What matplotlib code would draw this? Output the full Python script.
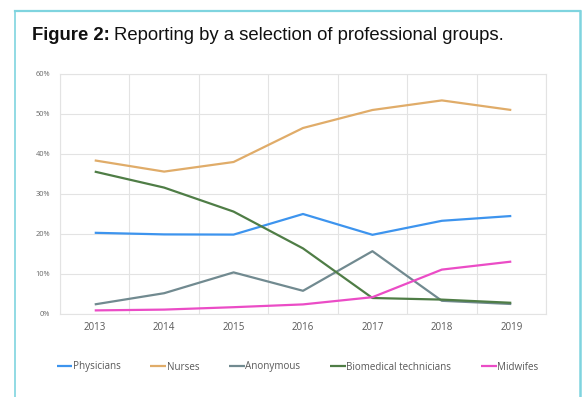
import matplotlib
matplotlib.use("Agg")
import matplotlib.pyplot as plt
from matplotlib.lines import Line2D
from matplotlib.ticker import PercentFormatter

years = ["2013", "2014", "2015", "2016", "2017", "2018", "2019"]
physicians = [20.3, 19.9, 19.85, 25.0, 19.8, 23.3, 24.5]
nurses = [38.4, 35.6, 38.0, 46.5, 51.0, 53.4, 51.0]
anonymous = [2.4, 5.2, 10.4, 5.8, 15.7, 3.3, 2.5]
biomedical = [35.6, 31.6, 25.6, 16.4, 4.0, 3.6, 2.8]
midwifes = [0.9, 1.1, 1.7, 2.4, 4.2, 11.1, 13.1]

series = [
    ("Physicians", physicians, "#3d94ee"),
    ("Nurses", nurses, "#e0ac69"),
    ("Anonymous", anonymous, "#718a90"),
    ("Biomedical technicians", biomedical, "#4f7d46"),
    ("Midwifes", midwifes, "#eb4cc6"),
]

W, H = 583, 397
fig = plt.figure(figsize=(W / 100, H / 100), dpi=100)
fig.patch.set_facecolor("white")

# outer frame
fc = "#7fd4df"
def fx(p): return p / W
def fy(p): return 1 - p / H
fig.add_artist(Line2D([fx(15), fx(15)], [fy(11), fy(400)], color=fc, lw=1.2, transform=fig.transFigure))
fig.add_artist(Line2D([fx(15), fx(580)], [fy(11), fy(11)], color=fc, lw=1.6, transform=fig.transFigure))
fig.add_artist(Line2D([fx(580), fx(580)], [fy(11), fy(400)], color=fc, lw=1.8, transform=fig.transFigure))

# title
t1 = fig.text(fx(32), fy(36), "Figure 2:", fontsize=13.3, fontweight="bold",
              family="Liberation Sans", va="center", ha="left", color="#111111")
fig.canvas.draw()
bb = t1.get_window_extent()
fig.text((bb.x1 + 4) / W, fy(36), "Reporting by a selection of professional groups.",
         fontsize=13.3, family="Liberation Sans", va="center", ha="left", color="#111111")

ax = fig.add_axes([fx(60), (H - 314) / H, 486 / W, 240 / H])
x = list(range(len(years)))
for name, vals, col in series:
    ax.plot(x, vals, color=col, lw=1.6, label=name, solid_capstyle="butt")

ax.set_xlim(-0.5, len(years) - 0.5)
ax.set_ylim(0, 60)
ax.set_yticks(range(0, 61, 10))
ax.yaxis.set_major_formatter(PercentFormatter(decimals=0))
ax.set_xticks(x)
ax.set_xticklabels(years)
ax.set_xticks([i - 0.5 for i in range(len(years) + 1)], minor=True)
ax.grid(True, which="minor", axis="x", color="#e3e3e3", lw=0.8)
ax.grid(True, which="major", axis="y", color="#e3e3e3", lw=0.8)
ax.set_axisbelow(True)
ax.tick_params(axis="both", which="both", length=0)
ax.tick_params(axis="y", labelsize=5.3, labelcolor="#666666", pad=7)
ax.tick_params(axis="x", labelsize=7, labelcolor="#595959", pad=6)
for s in ax.spines.values():
    s.set_color("#e3e3e3")
    s.set_linewidth(0.8)
for lab in ax.get_xticklabels() + ax.get_yticklabels():
    lab.set_family("Open Sans")

leg = fig.legend(loc="center", bbox_to_anchor=(fx(297.5), fy(367)), ncol=5, frameon=False,
                 handlelength=1.6, handletextpad=0.05, columnspacing=3.0,
                 prop={"family": "Open Sans", "size": 7.1})
for t in leg.get_texts():
    t.set_color("#595959")

fig.savefig("out.png", dpi=100, facecolor="white")
